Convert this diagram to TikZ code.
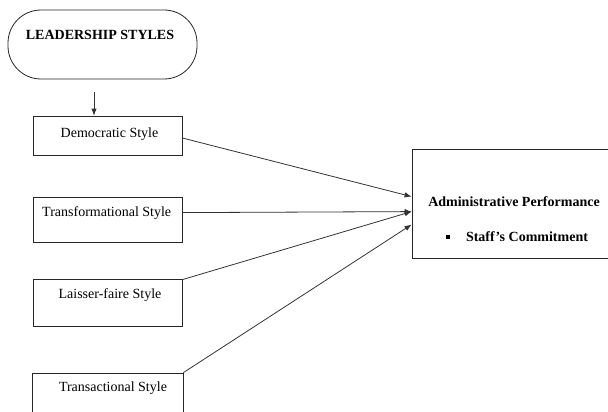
\documentclass[tikz,border=0pt]{standalone}
\usepackage{fontspec}
\setmainfont{Liberation Serif}
\usetikzlibrary{arrows.meta}
\begin{document}
\begin{tikzpicture}[x=1pt,y=-1pt,
  txt/.style={font=\fontsize{14}{17}\selectfont, inner sep=0pt},
  btxt/.style={font=\fontsize{14}{17}\selectfont\bfseries, inner sep=0pt},
  box/.style={draw=black!85, line width=0.8pt, inner sep=0pt},
  conn/.style={draw=black!80, line width=0.8pt, -{Latex[length=7pt,width=5.5pt]}}]
\useasboundingbox (0,0) rectangle (608,412);
\clip (0,0) rectangle (608,412);
% boxes
\node[box, rounded corners=33pt, minimum width=189pt, minimum height=69pt] (lead) at (102.5,44.5) {};
\node[box, minimum width=149pt, minimum height=39pt] (dem) at (107.5,135.5) {};
\node[box, minimum width=149pt, minimum height=45pt] (trf) at (107.5,219.5) {};
\node[box, minimum width=149pt, minimum height=47pt] (lai) at (107.5,302.5) {};
\node[box, minimum width=151pt, minimum height=57pt] (trc) at (107.5,401.5) {};
\node[box, minimum width=208pt, minimum height=109pt] (perf) at (516,203.5) {};
% texts
\node[btxt] (tlead) at (100,35) {LEADERSHIP STYLES};
\node[txt] (tdem) at (109.5,134) {Democratic Style};
\node[txt] (ttrf) at (106.7,213) {Transformational Style};
\node[txt] (tlai) at (110,295) {Laisser-faire Style};
\node[txt] (ttrc) at (113,388) {Transactional Style};
\node[btxt] (tperf) at (514,202) {Administrative Performance};
\node[fill=black, inner sep=0pt, minimum size=4.5pt] (bul) at (448,237) {};
\node[btxt] (tstaff) at (527,237) {Staff’s Commitment};
% connectors
\coordinate (a0) at (94,92);
\draw[conn] (a0) -- (a0 |- dem.north);
\draw[conn] ([yshift=-2.5pt]dem.east) -- ([yshift=-48pt]perf.north west);
\draw[conn] ([yshift=-16pt]trf.north east) -- ([yshift=-63pt]perf.north west);
\draw[conn] ([yshift=-1pt]lai.north east) -- ([yshift=-63pt]perf.north west);
\draw[conn] (trc.north east) -- ([yshift=-76pt]perf.north west);
\end{tikzpicture}
\end{document}
